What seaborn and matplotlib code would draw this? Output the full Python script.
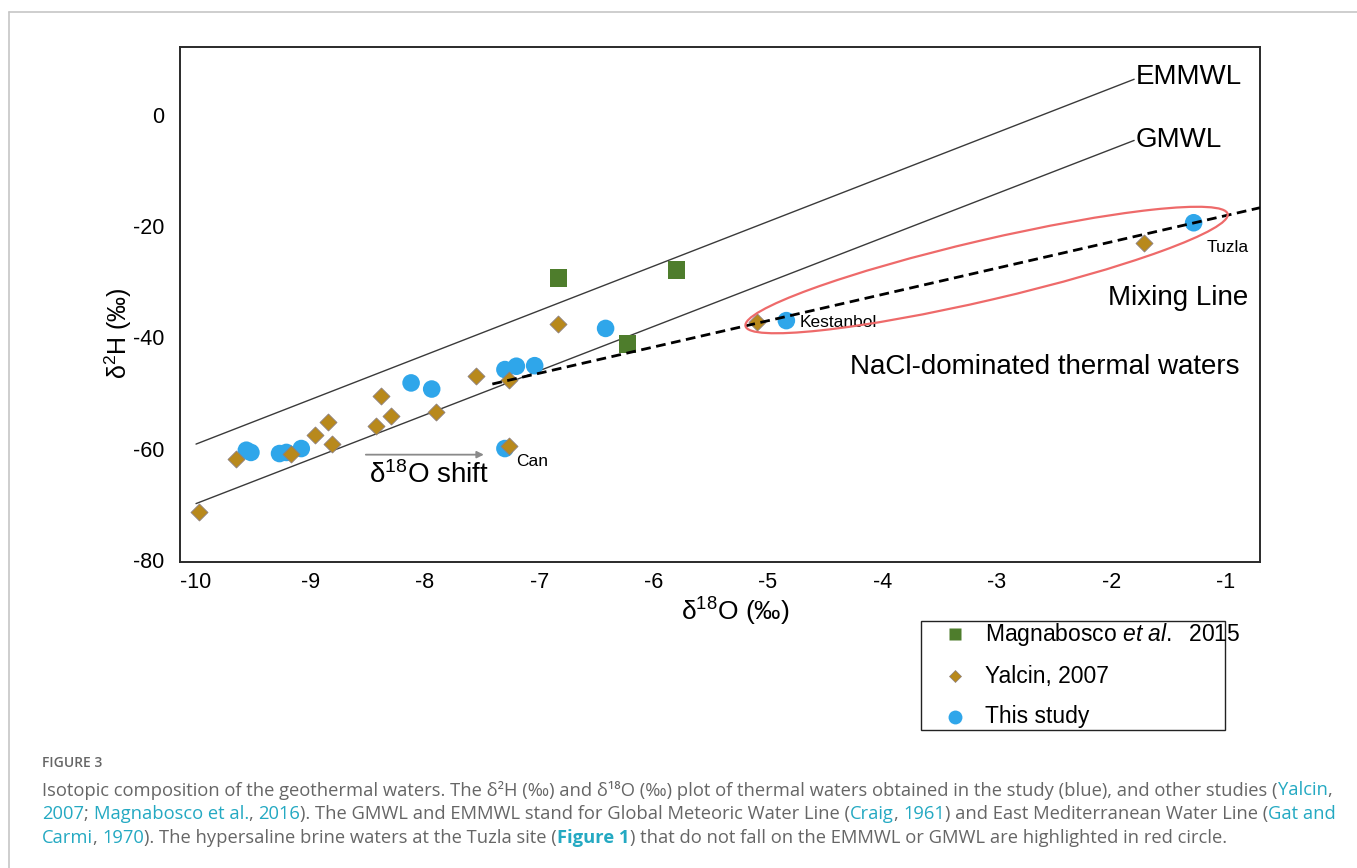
import numpy as np
import pandas as pd
import seaborn as sns
import matplotlib.pyplot as plt
from matplotlib.patches import Ellipse, Rectangle
from matplotlib.lines import Line2D
from matplotlib.transforms import ScaledTranslation

# ---- data ----
# This study (blue circles)
study_o18 = [-9.56, -9.52, -9.27, -9.21, -9.08, -8.12, -7.94, -7.30, -7.20, -7.04, -6.42, -7.30, -4.84, -1.28]
study_h2 = [-60.3, -60.7, -60.9, -60.7, -60.0, -48.2, -49.3, -45.8, -45.2, -45.1, -38.4, -60.0, -37.0, -19.4]

# Yalcin, 2007 (diamonds)
yalcin_o18 = [-9.97, -9.65, -9.17, -8.96, -8.85, -8.81, -8.43, -8.38, -8.30, -7.90, -7.55, -7.26, -7.26, -6.84, -5.10, -1.71]
yalcin_h2 = [-71.4, -61.9, -60.9, -57.6, -55.3, -59.2, -55.9, -50.5, -54.2, -53.5, -47.0, -47.6, -59.6, -37.6, -37.3, -23.0]

# Magnabosco et al. 2015 (squares)
magna_o18 = [-6.83, -5.80, -6.23]
magna_h2 = [-29.3, -27.9, -41.2]

# reference lines (end points)
emmwl_o18 = [-10.0, -1.80]
emmwl_h2 = [-59.2, 6.4]
gmwl_o18 = [-10.0, -1.80]
gmwl_h2 = [-69.9, -4.6]
mix_o18 = [-7.41, -0.70]
mix_h2 = [-48.4, -16.7]

x_ticks = [-10, -9, -8, -7, -6, -5, -4, -3, -2, -1]
y_ticks = [0, -20, -40, -60, -80]

W, H = 1357, 868
BLUE = '#2fa6ea'
GOLD = '#b8891c'
GREEN = '#4e7d2c'
GRAY_TXT = '#666666'
LINK = '#24a9c2'


def fx(px):
    return px / W


def fy(py):
    return 1 - py / H


sns.set_style('white')
plt.rcParams['font.family'] = ['Liberation Sans', 'DejaVu Sans']
plt.rcParams['text.color'] = 'black'
plt.rcParams['xtick.labelcolor'] = 'black'
plt.rcParams['ytick.labelcolor'] = 'black'
plt.rcParams['axes.unicode_minus'] = False
plt.rcParams['mathtext.fontset'] = 'custom'
plt.rcParams['mathtext.rm'] = 'Liberation Sans'
plt.rcParams['mathtext.it'] = 'Liberation Sans:italic'
plt.rcParams['mathtext.bf'] = 'Liberation Sans:bold'

fig = plt.figure(figsize=(W / 100, H / 100), dpi=100)
ax = fig.add_axes([fx(180), fy(562), (1260 - 180) / W, (562 - 47) / H])

# meteoric water lines
sns.lineplot(x=emmwl_o18, y=emmwl_h2, ax=ax, color='#3a3a3a', lw=1.0, estimator=None, sort=False, zorder=1)
sns.lineplot(x=gmwl_o18, y=gmwl_h2, ax=ax, color='#3a3a3a', lw=1.0, estimator=None, sort=False, zorder=1)

# points
sns.scatterplot(x=study_o18, y=study_h2, ax=ax, marker='o', s=160, color=BLUE,
                edgecolor='none', zorder=2)
sns.scatterplot(x=yalcin_o18, y=yalcin_h2, ax=ax, marker='D', s=75, color=GOLD,
                edgecolor='#8c8080', linewidth=0.6, zorder=3)
sns.scatterplot(x=magna_o18, y=magna_h2, ax=ax, marker='s', s=160, color=GREEN,
                edgecolor='none', zorder=3)

# mixing line
sns.lineplot(x=mix_o18, y=mix_h2, ax=ax, color='black', lw=2.0, linestyle=(0, (3.5, 2)),
             estimator=None, sort=False, zorder=4)

# red ellipse around the brines (sized in inches, centred in data coords)
ell = Ellipse((0, 0), 4.95, 0.6, angle=13.1, fill=False, ec='#ee6a6a', lw=1.6,
              transform=fig.dpi_scale_trans + ScaledTranslation(-3.09, -27.9, ax.transData),
              zorder=5)
ax.add_patch(ell)

# shift arrow
ax.annotate('', xy=(-7.46, -61.1), xytext=(-8.54, -61.1),
            arrowprops=dict(arrowstyle='-|>', color='#8a8a8a', lw=1.3, mutation_scale=10))
ax.text(-7.96, -64.7, r'δ$^{18}$O shift', fontsize=20, ha='center', va='center')

# annotations
ax.text(-1.79, 6.8, 'EMMWL', fontsize=20, ha='left', va='center')
ax.text(-1.79, -4.5, 'GMWL', fontsize=20, ha='left', va='center')
ax.text(-1.17, -23.9, 'Tuzla', fontsize=12.5, ha='left', va='center')
ax.text(-0.80, -32.9, 'Mixing Line', fontsize=20, ha='right', va='center')
ax.text(-4.72, -37.4, 'Kestanbol', fontsize=12.5, ha='left', va='center')
ax.text(-0.88, -45.3, 'NaCl-dominated thermal waters', fontsize=20, ha='right', va='center')
ax.text(-7.20, -62.4, 'Can', fontsize=12.5, ha='left', va='center')

ax.set_xlim(-10.14, -0.70)
ax.set_ylim(-80.4, 12.2)
ax.set_xticks(x_ticks)
ax.set_yticks(y_ticks)
ax.set_xticklabels([str(v) for v in x_ticks])
ax.set_yticklabels([str(v) for v in y_ticks])
ax.tick_params(axis='both', direction='out', length=4, width=0.8, color='#bbbbbb', labelsize=15.5)
ax.tick_params(axis='y', pad=7)
ax.tick_params(axis='x', pad=3)
for side in ['left', 'bottom', 'top', 'right']:
    ax.spines[side].set_visible(True)
    ax.spines[side].set_color('#2a2a2a')
    ax.spines[side].set_linewidth(1.4)

ax.text((735 - 180) / 1080, (562 - 612) / 515, r'δ$^{18}$O (‰)', transform=ax.transAxes,
        fontsize=19, ha='center', va='center')
ax.text((118 - 180) / 1080, (562 - 333) / 515, r'δ$^{2}$H (‰)', transform=ax.transAxes,
        fontsize=18, ha='center', va='center', rotation=90)

# ---- legend (box drawn by hand, label overflows like the original) ----
fig.add_artist(Rectangle((fx(921), fy(730)), (1225 - 921) / W, (730 - 621) / H,
                         transform=fig.transFigure, fill=False, ec='#222222', lw=1.0))
leg_rows = [
    ('s', GREEN, 9, 'none', r'Magnabosco $\it{et\ al.}$  2015', 634),
    ('D', GOLD, 6, '#8c8080', 'Yalcin, 2007', 676),
    ('o', BLUE, 10, 'none', 'This study', 717),
]
for mk, col, ms, ec, lab, ypx in leg_rows:
    fig.add_artist(Line2D([fx(955)], [fy(ypx)], transform=fig.transFigure, marker=mk,
                          markersize=ms, color=col, markeredgecolor=ec, markeredgewidth=0.5,
                          linestyle='none'))
    fig.text(fx(985), fy(ypx), lab, fontsize=16.5, ha='left', va='center')

# ---- page frame ----
fig.add_artist(Line2D([fx(9), fx(9)], [0, fy(12)], transform=fig.transFigure, color='#c6c6c6', lw=1.2))
fig.add_artist(Line2D([fx(9), 1], [fy(12), fy(12)], transform=fig.transFigure, color='#c6c6c6', lw=1.2))

# ---- caption ----
cap_font = ['Open Sans', 'DejaVu Sans']
cap_size = 13.2
fig.text(fx(42), fy(763), 'FIGURE 3', fontsize=10, fontweight='semibold', color='#666666',
         family=cap_font, ha='left', va='center')

caption_lines = [
    (790, [('Isotopic composition of the geothermal waters. The δ²H (‰) and δ¹⁸O (‰) plot of thermal '
            'waters obtained in the study (blue), and other studies (', GRAY_TXT, 'normal'),
           ('Yalcin', LINK, 'normal'), (',', GRAY_TXT, 'normal')]),
    (814, [('2007', LINK, 'normal'), ('; ', GRAY_TXT, 'normal'),
           ('Magnabosco et al.', LINK, 'normal'), (', ', GRAY_TXT, 'normal'), ('2016', LINK, 'normal'),
           ('). The GMWL and EMMWL stand for Global Meteoric Water Line (', GRAY_TXT, 'normal'),
           ('Craig', LINK, 'normal'), (', ', GRAY_TXT, 'normal'), ('1961', LINK, 'normal'),
           (') and East Mediterranean Water Line (', GRAY_TXT, 'normal'), ('Gat and', LINK, 'normal')]),
    (838, [('Carmi', LINK, 'normal'), (', ', GRAY_TXT, 'normal'), ('1970', LINK, 'normal'),
           ('). The hypersaline brine waters at the Tuzla site (', GRAY_TXT, 'normal'),
           ('Figure 1', LINK, 'bold'),
           (') that do not fall on the EMMWL or GMWL are highlighted in red circle.', GRAY_TXT, 'normal')]),
]

renderer = fig.canvas.get_renderer()


def text_width(s, weight):
    # width with a guard glyph so trailing spaces are counted
    t1 = fig.text(0, 0, s + '|', fontsize=cap_size, fontweight=weight, family=cap_font)
    t0 = fig.text(0, 0, '|', fontsize=cap_size, fontweight=weight, family=cap_font)
    w = t1.get_window_extent(renderer).width - t0.get_window_extent(renderer).width
    t1.remove()
    t0.remove()
    return w


for ypx, parts in caption_lines:
    xpx = 42
    for s, col, wt in parts:
        fig.text(fx(xpx), fy(ypx), s, fontsize=cap_size, fontweight=wt, color=col,
                 family=cap_font, ha='left', va='center')
        xpx += text_width(s, wt)

fig.savefig('out.png', dpi=100)
